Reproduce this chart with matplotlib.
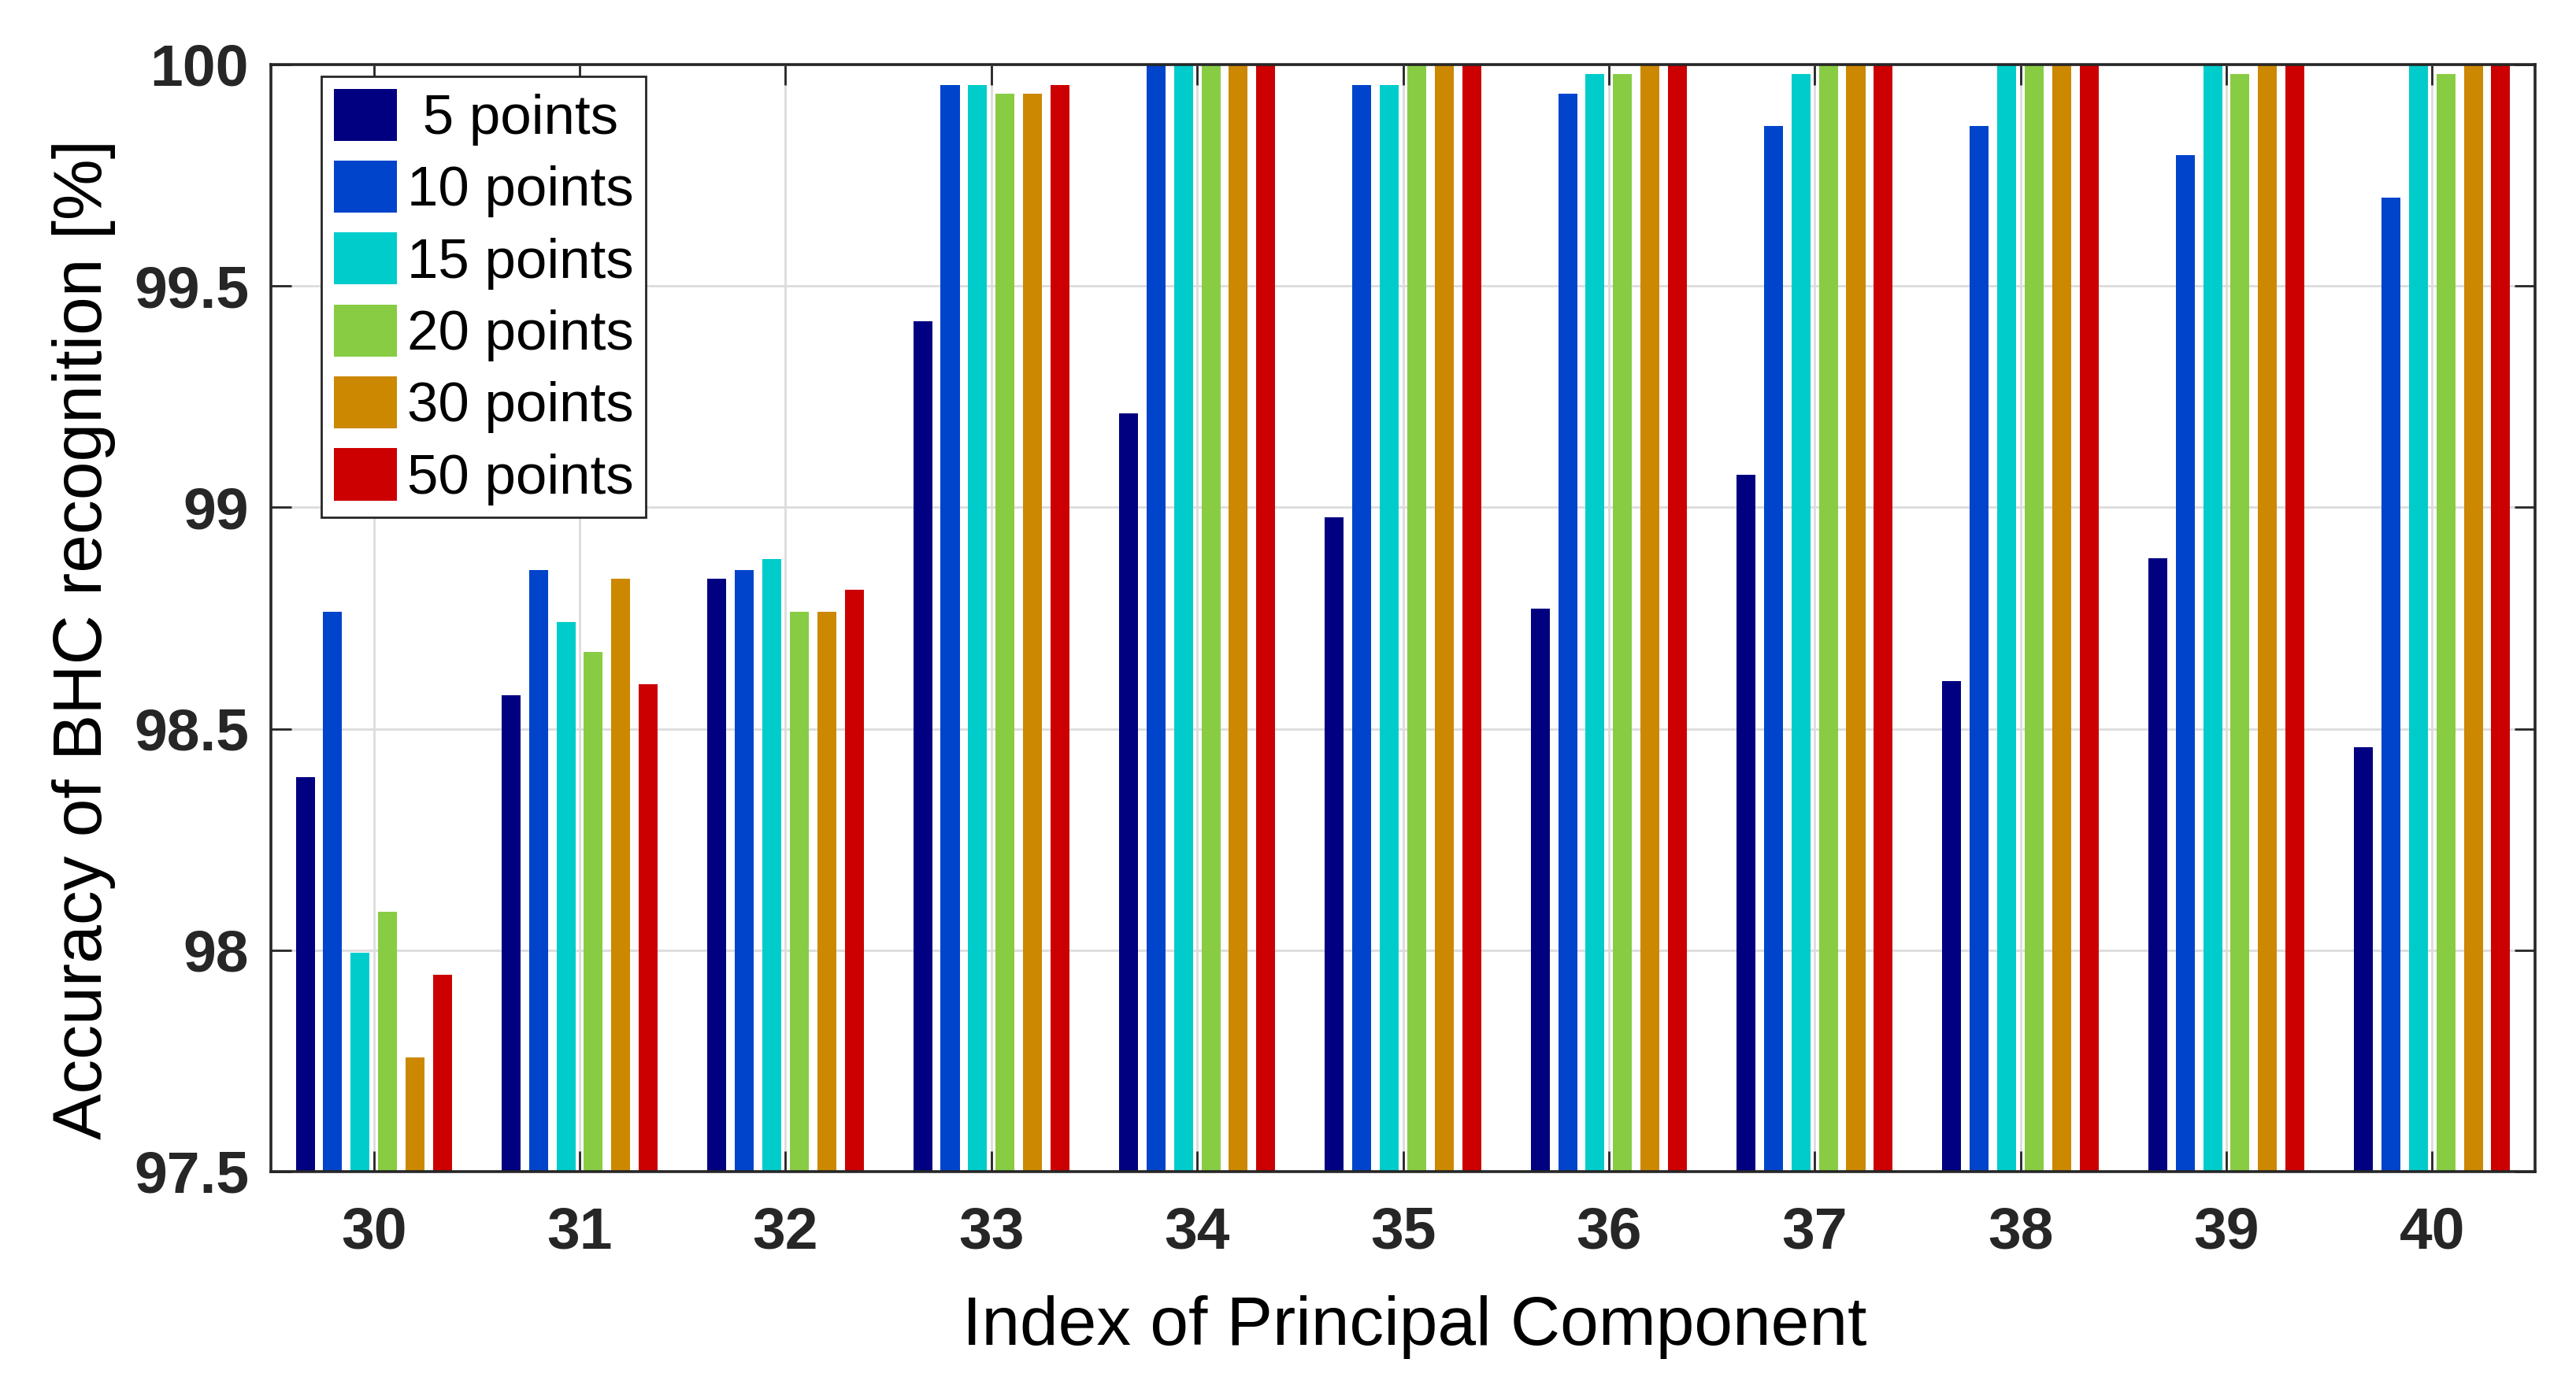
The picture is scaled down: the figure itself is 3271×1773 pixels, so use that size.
import numpy as np
import matplotlib
matplotlib.use("Agg")
import matplotlib.pyplot as plt

#
# Data
#

components = [30, 31, 32, 33, 34, 35, 36, 37, 38, 39, 40]
series_labels = [" 5 points", "10 points", "15 points", "20 points", "30 points", "50 points"]
series_colors = ["#000080", "#0044cc", "#00cccc", "#88cc44", "#cc8800", "#cc0000"]

acc_5 = [98.390, 98.576, 98.839, 99.420, 99.213, 98.977, 98.771, 99.074, 98.607, 98.886, 98.458]
acc_10 = [98.765, 98.858, 98.858, 99.953, 100.0, 99.953, 99.934, 99.862, 99.862, 99.795, 99.699]
acc_15 = [97.995, 98.741, 98.883, 99.953, 100.0, 99.953, 99.978, 99.978, 100.0, 100.0, 100.0]
acc_20 = [98.086, 98.673, 98.765, 99.934, 100.0, 100.0, 99.978, 100.0, 100.0, 99.978, 99.978]
acc_30 = [97.757, 98.839, 98.765, 99.934, 100.0, 100.0, 100.0, 100.0, 100.0, 100.0, 100.0]
acc_50 = [97.945, 98.600, 98.814, 99.953, 100.0, 100.0, 100.0, 100.0, 100.0, 100.0, 100.0]

y_ticks = [97.5, 98, 98.5, 99, 99.5, 100]
y_tick_labels = ["97.5", "98", "98.5", "99", "99.5", "100"]

#
# Graph
#

plt.rcParams["font.family"] = ["Liberation Sans", "DejaVu Sans"]

fig = plt.figure(figsize=(32.71, 17.73), dpi=100)
ax = fig.add_axes([344 / 3271, 1 - 1488 / 1773, (3219 - 344) / 3271, (1488 - 82) / 1773])

x = np.array(components, dtype=float)
slot = 0.8 / 6
bar_width = 0.092
all_series = [acc_5, acc_10, acc_15, acc_20, acc_30, acc_50]
for i, (values, label, color) in enumerate(zip(all_series, series_labels, series_colors)):
    offset = (i - 2.5) * slot
    ax.bar(x + offset, values, width=bar_width, color=color, label=label, linewidth=0, zorder=2)

ax.set_xlim(29.5, 40.5)
ax.set_ylim(97.5, 100)
ax.set_xticks(components)
ax.set_xticklabels([str(c) for c in components])
ax.set_yticks(y_ticks)
ax.set_yticklabels(y_tick_labels)

ax.set_axisbelow(True)
ax.grid(True, color="#dcdcdc", linewidth=2)

for spine in ax.spines.values():
    spine.set_color("#262626")
    spine.set_linewidth(2.6)
    spine.set_zorder(3)

ax.tick_params(axis="both", direction="in", length=19, width=2, top=True, right=True, color="#262626")
ax.tick_params(axis="x", pad=31)
ax.tick_params(axis="y", pad=20)
for lbl in ax.get_xticklabels() + ax.get_yticklabels():
    lbl.set_fontsize(54)
    lbl.set_fontweight("bold")
    lbl.set_color("#262626")

ax.set_xlabel("Index of Principal Component", fontsize=63, color="black")
ax.xaxis.set_label_coords(0.505, -0.112)
ax.xaxis.label.set_verticalalignment("top")
ax.set_ylabel("Accuracy of BHC recognition [%]", fontsize=63, color="black")
ax.yaxis.set_label_coords(-0.0685, 0.481)

legend = ax.legend(
    loc="upper left",
    bbox_to_anchor=(408 / 3271, 1 - 97 / 1773),
    bbox_transform=fig.transFigure,
    borderaxespad=0,
    fontsize=51,
    handlelength=1.14,
    handleheight=1.06,
    handletextpad=0.18,
    labelspacing=0.27,
    borderpad=0.22,
    fancybox=False,
    framealpha=1,
)
legend.get_frame().set_edgecolor("#262626")
legend.get_frame().set_linewidth(2)

fig.savefig("out.png", dpi=100, facecolor="white")
